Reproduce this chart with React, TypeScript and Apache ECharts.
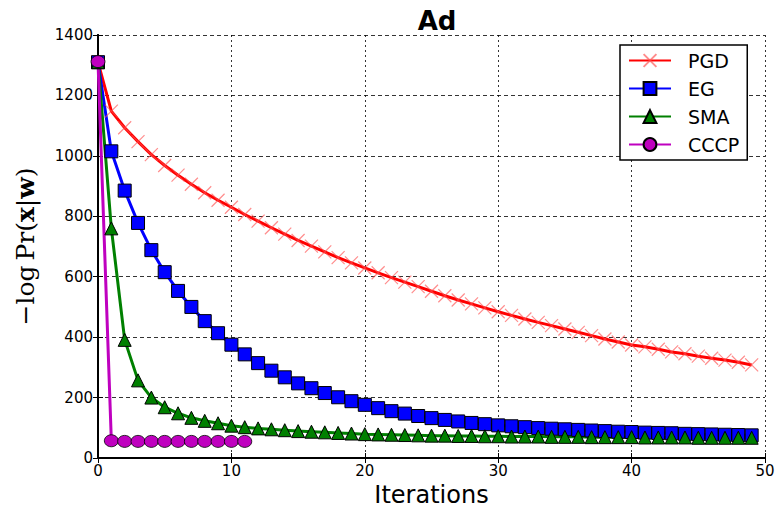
import React, { useEffect, useRef } from "react";
import * as echarts from "echarts";

const iterations: number[] = Array.from({ length: 50 }, (_, i) => i);

const pgd: number[] = [
  1310, 1148, 1093, 1047, 1004, 968, 936, 906, 878, 853, 830,
  806, 784, 762, 741, 720, 701, 682, 663, 646, 629,
  613, 597, 582, 567, 552, 537, 523, 510, 497, 484,
  472, 460, 449, 438, 427, 416, 405, 394, 384, 374,
  368, 360, 351, 345, 337, 330, 324, 317, 308,
];

const eg: number[] = [
  1310, 1015, 885, 778, 688, 615, 553, 500, 453, 413, 375,
  343, 314, 289, 267, 247, 231, 215, 201, 188, 176,
  165, 155, 147, 139, 132, 126, 121, 116, 112, 108,
  105, 102, 99, 97, 95, 93, 91, 89, 87, 86,
  84, 83, 82, 80, 79, 78, 77, 76, 75,
];

const sma: number[] = [
  1310, 760, 391, 257, 200, 168, 148, 133, 123, 115, 107,
  102, 98, 95, 92, 89, 87, 85, 83, 81, 79,
  78, 77, 76, 75, 74, 74, 73, 73, 72, 72,
  71, 71, 71, 70, 70, 70, 69, 69, 69, 69,
  68, 68, 68, 68, 67, 67, 67, 67, 67,
];

const cccp: number[] = [1312, 57, 55, 55, 55, 55, 55, 55, 55, 55, 55, 55];

const seriesNames = ["PGD", "EG", "SMA", "CCCP"];
const xTicks = { min: 0, max: 50, interval: 10 };
const yTicks = { min: 0, max: 1400, interval: 200 };

const pair = (arr: number[]) => arr.map((v, i) => [iterations[i], v]);

export default function App() {
  const ref = useRef<HTMLDivElement>(null);
  useEffect(() => {
    document.body.style.margin = "0";
    if (!ref.current) return;
    const chart = echarts.init(ref.current, undefined, { renderer: "svg" });
    const font = "DejaVu Sans";
    const axisCommon = {
      axisLine: { show: true, lineStyle: { color: "#000", width: 2 } },
      axisTick: { show: true, inside: true, length: 5, lineStyle: { color: "#000" } },
    };
    const plain = (v: number) => String(v);
    chart.setOption({
      animation: false,
      backgroundColor: "#fff",
      title: {
        text: "Ad",
        left: 432,
        top: 3,
        textAlign: "center",
        textStyle: { fontFamily: font, fontWeight: "bold", fontSize: 26, color: "#000" },
      },
      grid: { left: 98, right: 17, top: 35, bottom: 50, show: false, outerBoundsMode: "none", containLabel: false },
      legend: {
        orient: "vertical",
        left: 620,
        top: 45,
        data: seriesNames,
        borderColor: "#000",
        borderWidth: 1.5,
        backgroundColor: "#fff",
        padding: [6, 8, 6, 8],
        itemGap: 9,
        itemWidth: 42,
        itemHeight: 16,
        textStyle: { fontFamily: font, fontSize: 19, color: "#000", padding: [0, 0, 0, 12] },
      },
      xAxis: [
        {
          type: "value",
          ...xTicks,
          position: "bottom",
          name: "Iterations",
          nameLocation: "middle",
          nameGap: 23,
          nameTextStyle: { fontFamily: font, fontSize: 24, color: "#000", lineHeight: 24 },
          axisLabel: { fontFamily: font, fontSize: 15, color: "#000", margin: 5, formatter: plain },
          splitLine: { show: true, lineStyle: { color: "#000", type: [2, 3], width: 0.8 } },
          ...axisCommon,
        },
        {
          type: "value",
          ...xTicks,
          position: "top",
          axisLabel: { show: false },
          splitLine: { show: false },
          ...axisCommon,
        },
      ],
      yAxis: [
        {
          type: "value",
          ...yTicks,
          position: "left",
          name: "{n|−log\u2009Pr(}{b|x}{n||}{b|w}{n|)}",
          nameLocation: "middle",
          nameRotate: 90,
          nameGap: 60,
          nameTextStyle: {
            rich: {
              n: { fontFamily: "DejaVu Serif", fontSize: 25, color: "#000" },
              b: { fontFamily: "DejaVu Serif", fontSize: 25, fontWeight: "bold", color: "#000" },
            },
          },
          axisLabel: { fontFamily: font, fontSize: 15, color: "#000", margin: 5, formatter: plain },
          splitLine: { show: true, lineStyle: { color: "#000", type: [4, 3], width: 0.8 } },
          ...axisCommon,
        },
        {
          type: "value",
          ...yTicks,
          position: "right",
          axisLabel: { show: false },
          splitLine: { show: false },
          ...axisCommon,
        },
      ],
      series: [
        {
          name: "PGD",
          type: "line",
          data: pair(pgd),
          symbol: "path://M0,0L10,10M10,0L0,10",
          symbolSize: 13,
          lineStyle: { color: "#ff0000", width: 3 },
          itemStyle: { color: "rgba(255,0,0,0)", borderColor: "rgba(255,80,80,0.65)", borderWidth: 1.2 },
          clip: false,
        },
        {
          name: "EG",
          type: "line",
          data: pair(eg),
          symbol: "rect",
          symbolSize: 13,
          lineStyle: { color: "#0000ff", width: 3 },
          itemStyle: { color: "#0000ff", borderColor: "#000", borderWidth: 1 },
          clip: false,
        },
        {
          name: "SMA",
          type: "line",
          data: pair(sma),
          symbol: "triangle",
          symbolSize: 13,
          lineStyle: { color: "#008000", width: 3 },
          itemStyle: { color: "#008000", borderColor: "#000", borderWidth: 1 },
          clip: false,
        },
        {
          name: "CCCP",
          type: "line",
          data: pair(cccp),
          symbol: "circle",
          symbolSize: [14, 12],
          lineStyle: { color: "#bf00bf", width: 3 },
          itemStyle: { color: "#bf00bf", borderColor: "#000", borderWidth: 0.8 },
          clip: false,
        },
      ],
    });
    return () => chart.dispose();
  }, []);
  return <div ref={ref} style={{ width: 782, height: 508 }} />;
}
